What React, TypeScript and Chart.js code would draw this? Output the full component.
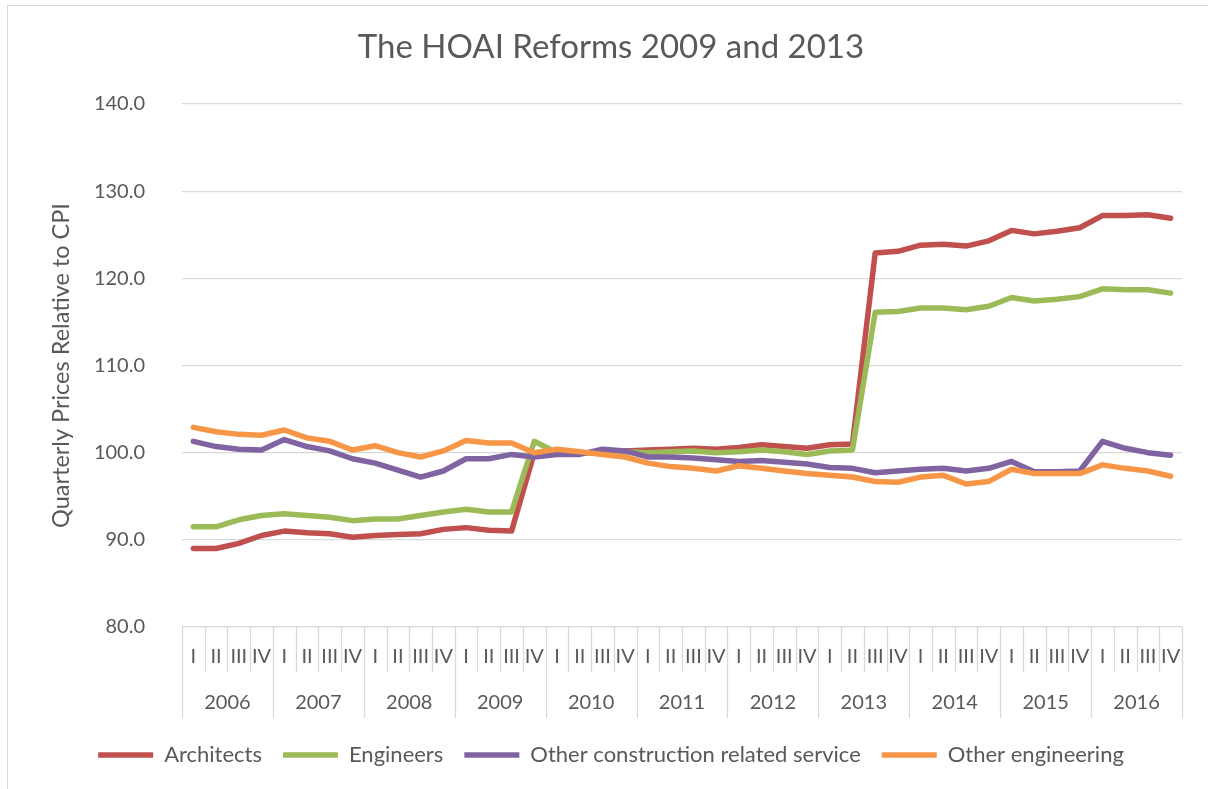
import React, { useEffect, useRef } from 'react';
import { Chart, registerables } from 'chart.js';

Chart.register(...registerables);

const YEARS = ['2006', '2007', '2008', '2009', '2010', '2011', '2012', '2013', '2014', '2015', '2016'];
const QUARTERS = ['I', 'II', 'III', 'IV'];

const ARCHITECTS = [
  89.0, 89.0, 89.6, 90.5,
  91.0, 90.8, 90.7, 90.3,
  90.5, 90.6, 90.7, 91.2,
  91.4, 91.1, 91.0, 100.0,
  100.0, 100.0, 100.0, 100.2,
  100.3, 100.4, 100.5, 100.4,
  100.6, 100.9, 100.7, 100.5,
  100.9, 101.0, 122.9, 123.1,
  123.8, 123.9, 123.7, 124.3,
  125.5, 125.1, 125.4, 125.8,
  127.2, 127.2, 127.3, 126.9,
];
const ENGINEERS = [
  91.5, 91.5, 92.3, 92.8,
  93.0, 92.8, 92.6, 92.2,
  92.4, 92.4, 92.8, 93.2,
  93.5, 93.2, 93.2, 101.3,
  100.0, 100.0, 100.0, 100.1,
  100.0, 100.1, 100.2, 100.0,
  100.1, 100.3, 100.1, 99.8,
  100.2, 100.3, 116.1, 116.2,
  116.6, 116.6, 116.4, 116.8,
  117.8, 117.4, 117.6, 117.9,
  118.8, 118.7, 118.7, 118.3,
];
const OTHER_CONSTRUCTION = [
  101.3, 100.7, 100.4, 100.3,
  101.5, 100.7, 100.2, 99.3,
  98.8, 98.0, 97.2, 97.9,
  99.3, 99.3, 99.8, 99.5,
  99.8, 99.8, 100.4, 100.2,
  99.5, 99.5, 99.4, 99.2,
  99.0, 99.1, 98.9, 98.7,
  98.3, 98.2, 97.7, 97.9,
  98.1, 98.2, 97.9, 98.2,
  99.0, 97.8, 97.8, 97.9,
  101.3, 100.5, 100.0, 99.7,
];
const OTHER_ENGINEERING = [
  102.9, 102.4, 102.1, 102.0,
  102.6, 101.7, 101.3, 100.3,
  100.8, 100.0, 99.5, 100.2,
  101.4, 101.1, 101.1, 100.0,
  100.4, 100.1, 99.8, 99.5,
  98.8, 98.4, 98.2, 97.9,
  98.5, 98.2, 97.9, 97.6,
  97.4, 97.2, 96.7, 96.6,
  97.2, 97.4, 96.4, 96.7,
  98.1, 97.6, 97.6, 97.6,
  98.6, 98.2, 97.9, 97.3,
];

const SERIES_NAMES = ['Architects', 'Engineers', 'Other construction related service', 'Other engineering'];
const SERIES_COLORS = ['#C0504D', '#9BBB59', '#8064A2', '#F79646'];
const Y_MIN = 80;
const Y_MAX = 140;
const Y_STEP = 10;

const TITLE = 'The HOAI Reforms 2009 and 2013';
const Y_TITLE = 'Quarterly Prices Relative to CPI';

const FONT = 'Lato';
const TEXT = '#595959';
const GRID = '#D9D9D9';

const LABELS: string[] = [];
YEARS.forEach((y) => QUARTERS.forEach((q) => LABELS.push(y + ' ' + q)));

const multiLevelAxis = {
  id: 'multiLevelAxis',
  afterDraw(chart: any) {
    const xs = chart.scales.x;
    const area = chart.chartArea;
    const ctx = chart.ctx;
    const n = LABELS.length;
    const step = xs.getPixelForValue(1) - xs.getPixelForValue(0);
    ctx.save();
    ctx.strokeStyle = GRID;
    ctx.lineWidth = 1.3;
    for (let i = 0; i <= n; i++) {
      const px = Math.round(xs.getPixelForValue(i) - step / 2) + 0.5;
      const isYear = i % QUARTERS.length === 0;
      ctx.beginPath();
      ctx.moveTo(px, area.bottom);
      ctx.lineTo(px, area.bottom + (isYear ? 91 : 45));
      ctx.stroke();
    }
    ctx.fillStyle = TEXT;
    ctx.font = `20px ${FONT}`;
    ctx.textAlign = 'center';
    ctx.textBaseline = 'middle';
    for (let i = 0; i < n; i++) {
      ctx.fillText(QUARTERS[i % QUARTERS.length], xs.getPixelForValue(i), area.bottom + 30);
    }
    YEARS.forEach((y, k) => {
      const a = xs.getPixelForValue(k * 4);
      const b = xs.getPixelForValue(k * 4 + 3);
      ctx.fillText(y, (a + b) / 2, area.bottom + 76);
    });
    ctx.restore();
  },
};

export default function App() {
  const ref = useRef<HTMLCanvasElement>(null);

  useEffect(() => {
    if (!ref.current) return;
    const seriesData = [ARCHITECTS, ENGINEERS, OTHER_CONSTRUCTION, OTHER_ENGINEERING];
    const chart = new Chart(ref.current, {
      type: 'line',
      data: {
        labels: LABELS,
        datasets: seriesData.map((d, i) => ({
          label: SERIES_NAMES[i],
          data: d,
          borderColor: SERIES_COLORS[i],
          backgroundColor: SERIES_COLORS[i],
          borderWidth: 5.5,
          borderCapStyle: 'round',
          borderJoinStyle: 'round',
          pointRadius: 0,
          pointHoverRadius: 0,
          tension: 0,
          fill: false,
          order: seriesData.length - 1 - i,
        })),
      },
      options: {
        animation: false,
        responsive: false,
        devicePixelRatio: 1,
        layout: { padding: { left: 40, right: 26, top: 8, bottom: 13 } },
        plugins: {
          title: {
            display: true,
            text: TITLE,
            color: TEXT,
            font: { family: FONT, size: 33, weight: 'normal' },
            padding: { top: 20, bottom: 36.4 },
          },
          legend: {
            display: true,
            position: 'bottom',
            reverse: true,
            labels: {
              usePointStyle: true,
              pointStyle: 'line',
              pointStyleWidth: 55,
              color: TEXT,
              font: { family: FONT, size: 22 },
              padding: 21,
            },
          },
          tooltip: { enabled: false },
        },
        scales: {
          x: {
            type: 'category',
            offset: true,
            grid: { display: false },
            border: { display: false },
            ticks: { display: false },
            afterFit: (s: any) => { s.height = 96; },
          },
          y: {
            min: Y_MIN,
            max: Y_MAX,
            ticks: {
              stepSize: Y_STEP,
              color: TEXT,
              font: { family: FONT, size: 20 },
              padding: 37,
              callback: (v: any) => Number(v).toFixed(1),
            },
            grid: { color: GRID, lineWidth: 1.3, drawTicks: false },
            border: { display: false },
            title: {
              display: true,
              text: Y_TITLE,
              color: TEXT,
              font: { family: FONT, size: 23.5 },
              padding: { top: 7, bottom: 0 },
            },
            afterFit: (s: any) => { s.width = 142; },
          },
        },
      },
      plugins: [multiLevelAxis],
    } as any);
    return () => chart.destroy();
  }, []);

  return (
    <div style={{ position: 'absolute', left: 0, top: 0, width: 1208, height: 789, overflow: 'hidden', background: '#fff' }}>
      <div style={{ position: 'absolute', left: 7, top: 5, width: 1300, height: 900, border: `1px solid ${GRID}`, boxSizing: 'border-box' }} />
      <canvas ref={ref} width={1208} height={789} style={{ position: 'absolute', left: 0, top: 0, width: 1208, height: 789 }} />
    </div>
  );
}
